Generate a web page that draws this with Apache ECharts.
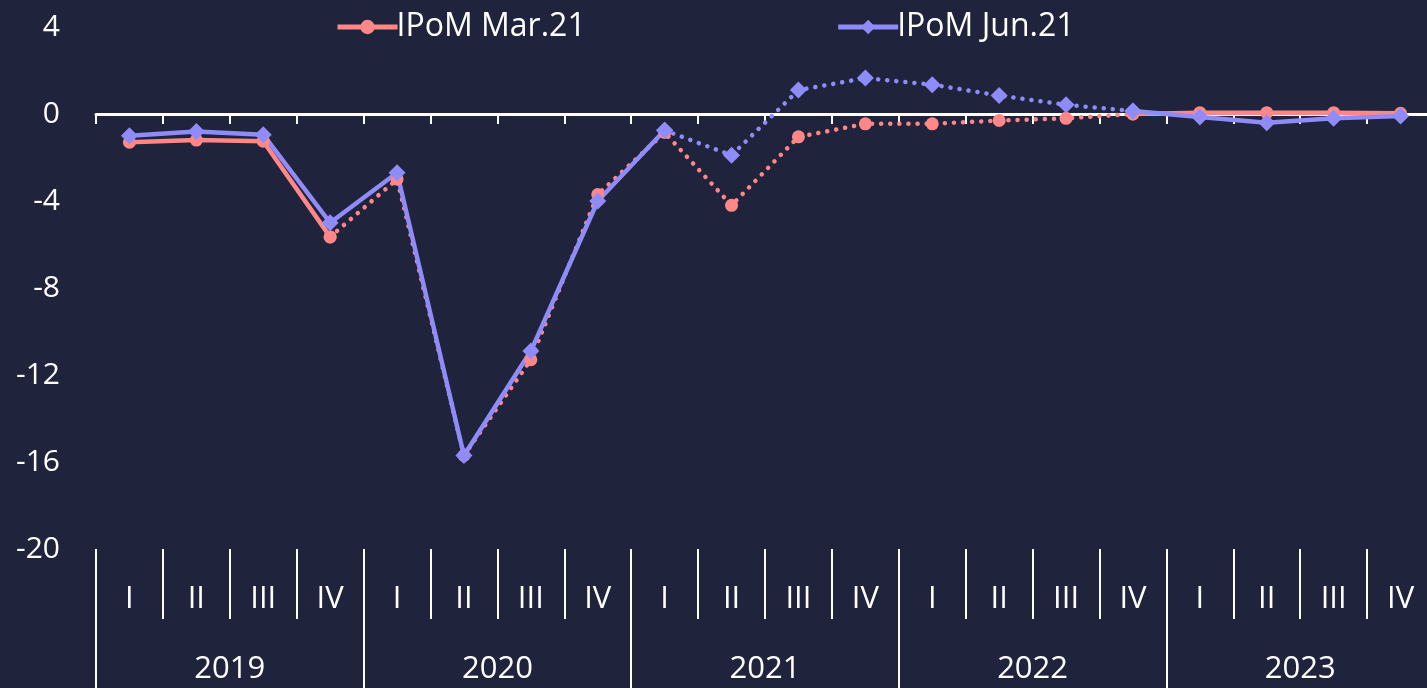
<!DOCTYPE html>
<html lang="en">
<head>
  <meta charset="UTF-8">
  <title>IPoM</title>
  <script src="https://cdn.jsdelivr.net/npm/echarts@6/dist/echarts.min.js"></script>
  <style>
    html, body{
      margin: 0;
      padding: 0;
      overflow: hidden;
      background-color: #1f233b;
    }
    /* slightly wider than the window: the right edge of the plot is cut off */
    #myChart{
      width: 1434px;
      height: 688px;
    }
  </style>
</head>
<body>
  <div id="myChart"></div>
</body>
<script>
// data
const years = ['2019', '2020', '2021', '2022', '2023'];
const quarters = ['I', 'II', 'III', 'IV'];
const mar21 = [-1.3, -1.2, -1.25, -5.65, -3.0, -15.7, -11.3, -3.7, -0.85, -4.2, -1.05, -0.45, -0.45, -0.3, -0.2, 0.0, 0.06, 0.06, 0.06, 0.03];
const jun21 = [-1.0, -0.8, -0.95, -5.0, -2.7, -15.7, -10.9, -4.0, -0.75, -1.9, 1.1, 1.65, 1.35, 0.85, 0.42, 0.14, -0.14, -0.4, -0.2, -0.09];
const yTicks = [-20, -16, -12, -8, -4, 0, 4];
// solid / dotted split (index ranges)
const mar21Solid = [[0, 3], [15, 19]];
const jun21Solid = [[0, 8], [15, 19]];

const pink = '#ff8787';
const purple = '#8f8cf9';
const fontFam = '"Open Sans", sans-serif';

let categories = [];
years.forEach(y => quarters.forEach(q => categories.push(y + '-' + q)));

function pick(arr, ranges, inside) {
  return arr.map((v, i) => {
    let inRange = ranges.some(r => i >= r[0] && i <= r[1]);
    if (inside) return inRange ? v : null;
    // dotted part: between the solid ranges, including the joints
    let first = ranges[0][1], last = ranges[1][0];
    return (i >= first && i <= last) ? v : null;
  });
}

function makeSeries(name, arr, ranges, color, symbol, size) {
  let base = {
    name: name,
    type: 'line',
    xAxisIndex: 0,
    symbol: symbol,
    symbolSize: size,
    itemStyle: { color: color },
    connectNulls: false,
    animation: false
  };
  return [
    Object.assign({}, base, {
      data: pick(arr, ranges, true),
      lineStyle: { color: color, width: 4.5 }
    }),
    Object.assign({}, base, {
      data: pick(arr, ranges, false),
      lineStyle: { color: color, width: 4.5, type: [0.1, 9], cap: 'round' }
    })
  ];
}

let myChart = echarts.init(document.getElementById('myChart'));
let option = {
  backgroundColor: '#1f233b',
  textStyle: { fontFamily: fontFam },
  legend: {
    left: 330,
    top: 6,
    itemWidth: 60,
    itemHeight: 18,
    itemGap: 250,
    lineStyle: { width: 5 },
    textStyle: { color: '#ffffff', fontSize: 32, fontFamily: fontFam, padding: [0, 0, 0, -6] },
    data: ['IPoM Mar.21', 'IPoM Jun.21']
  },
  grid: {
    left: 96,
    right: 0,
    top: 27,
    bottom: 139
  },
  xAxis: [
    {
      type: 'category',
      data: categories,
      position: 'bottom',
      boundaryGap: true,
      axisLine: { onZero: true, lineStyle: { color: '#ffffff', width: 3 } },
      axisTick: { show: true, length: 10, interval: 0, lineStyle: { color: '#ffffff', width: 2 } },
      axisLabel: { show: false },
      splitLine: { show: false }
    },
    {
      type: 'category',
      data: categories,
      position: 'bottom',
      offset: 0,
      boundaryGap: true,
      axisLine: { show: false, onZero: false },
      axisTick: { show: true, length: 70, interval: 0, lineStyle: { color: '#ffffff', width: 2 } },
      axisLabel: {
        interval: 0,
        margin: 35,
        color: '#ffffff',
        fontSize: 31,
        formatter: v => v.split('-')[1]
      },
      splitLine: { show: false }
    },
    {
      type: 'category',
      data: years,
      position: 'bottom',
      offset: 70,
      boundaryGap: true,
      axisLine: { show: false, onZero: false },
      axisTick: { show: true, length: 70, interval: 0, lineStyle: { color: '#ffffff', width: 2 } },
      axisLabel: {
        interval: 0,
        margin: 35,
        color: '#ffffff',
        fontSize: 31
      },
      splitLine: { show: false }
    }
  ],
  yAxis: {
    type: 'value',
    min: yTicks[0],
    max: yTicks[yTicks.length - 1],
    interval: 4,
    axisLine: { show: false },
    axisTick: { show: false },
    splitLine: { show: false },
    axisLabel: { color: '#ffffff', fontSize: 30, margin: 36 }
  },
  series: [].concat(
    makeSeries('IPoM Mar.21', mar21, mar21Solid, pink, 'circle', 13),
    makeSeries('IPoM Jun.21', jun21, jun21Solid, purple, 'diamond', 17)
  )
};
myChart.setOption(option);
</script>
</html>
